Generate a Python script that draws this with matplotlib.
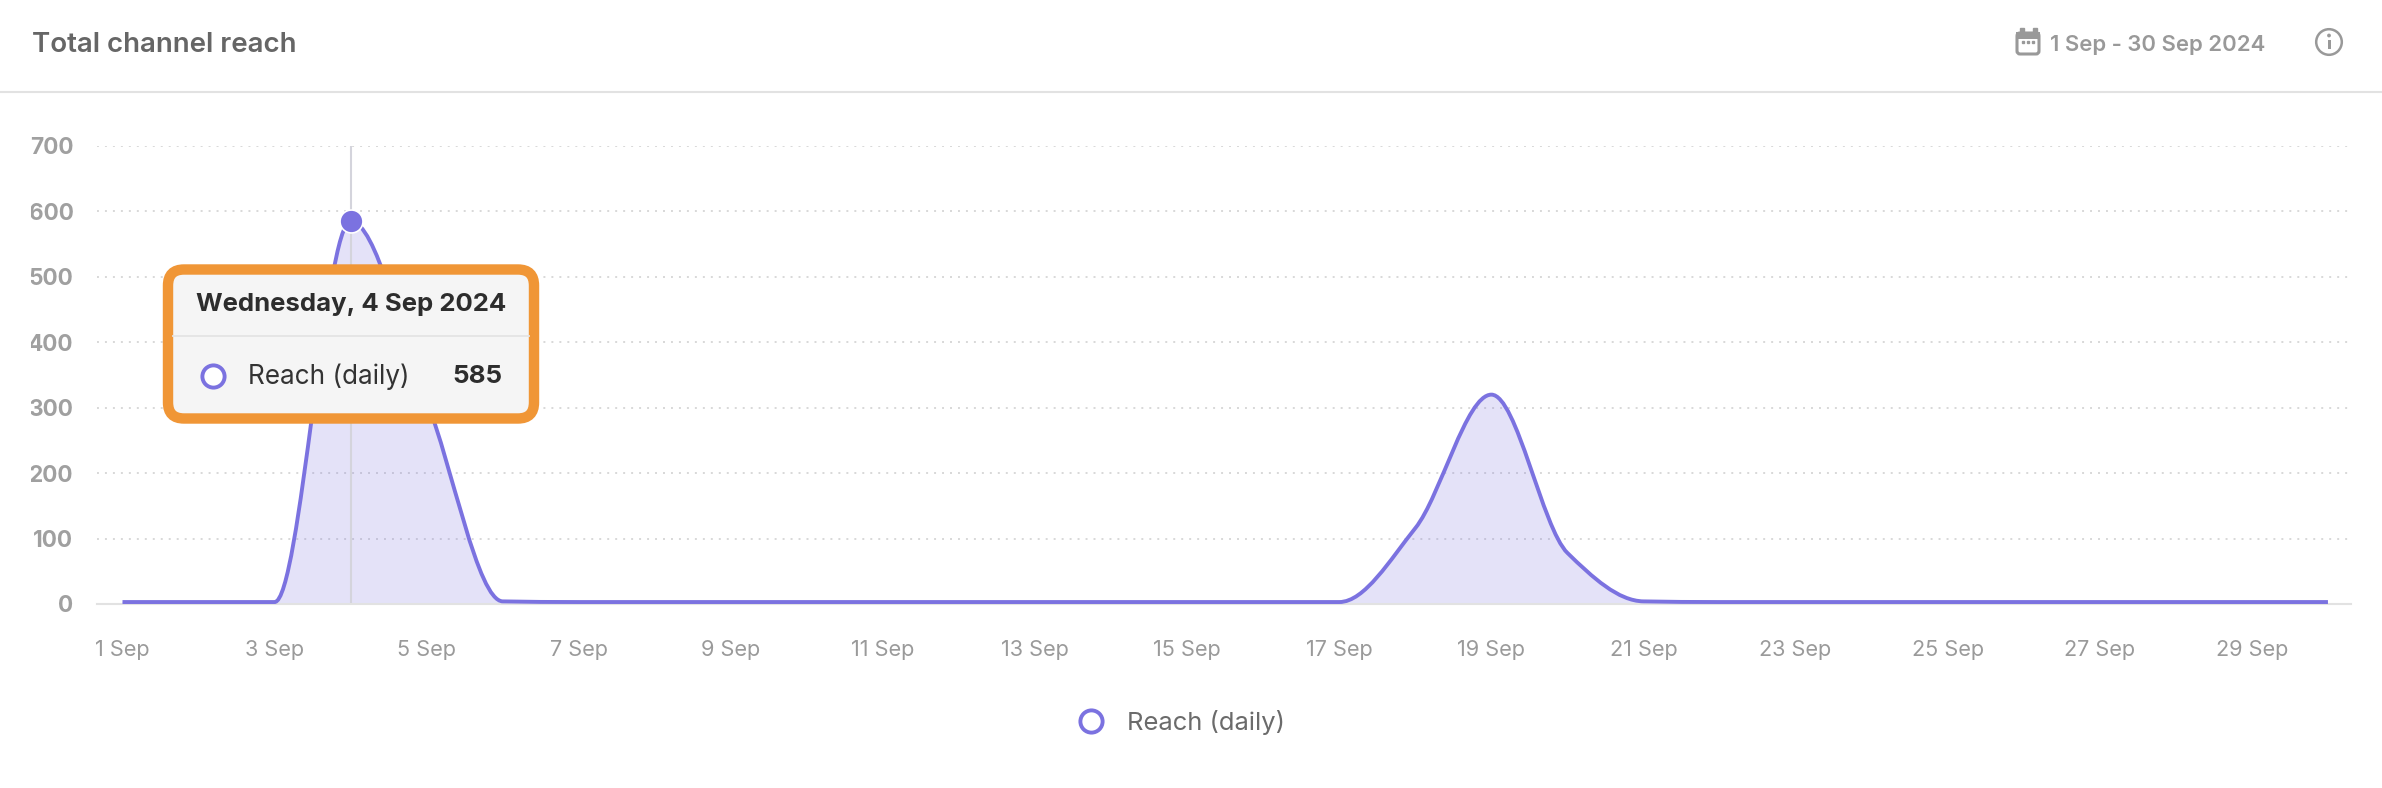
import numpy as np
import matplotlib
matplotlib.use('Agg')
import matplotlib.pyplot as plt
from matplotlib.path import Path
from matplotlib.patches import PathPatch, FancyBboxPatch, Circle, Rectangle
from matplotlib.transforms import Bbox

plt.rcParams['font.family'] = ['Inter', 'DejaVu Sans']

days = list(range(1, 31))
reach = [3, 3, 3, 585, 310, 4, 3, 3, 3, 3, 3, 3, 3, 3, 3, 3, 3, 116, 320, 78, 4, 3, 3, 3, 3, 3, 3, 3, 3, 3]
y_ticks = [0, 100, 200, 300, 400, 500, 600, 700]
x_ticks = list(range(1, 30, 2))
x_labels = ['%d Sep' % d for d in x_ticks]

W, H = 2382, 788
PURPLE = '#7b72e0'
GREY = '#9a9a9a'


def monotone_path(x, y):
    # curva monotona (como la del grafico original) en segmentos bezier
    x = np.array(x, float)
    y = np.array(y, float)
    d = np.diff(y) / np.diff(x)
    m = np.zeros(len(y))
    for i in range(1, len(y) - 1):
        if d[i - 1] * d[i] > 0:
            m[i] = 2 * d[i - 1] * d[i] / (d[i - 1] + d[i])
    verts = [(x[0], y[0])]
    codes = [Path.MOVETO]
    for i in range(len(x) - 1):
        h = (x[i + 1] - x[i]) / 3
        verts += [(x[i] + h, y[i] + m[i] * h), (x[i + 1] - h, y[i + 1] - m[i + 1] * h), (x[i + 1], y[i + 1])]
        codes += [Path.CURVE4] * 3
    return verts, codes


fig = plt.figure(figsize=(W / 100, H / 100), dpi=100, facecolor='white')

left, right, top, bottom = 97, 2351, 146, 604
ax = fig.add_axes([left / W, 1 - bottom / H, (right - left) / W, (bottom - top) / H])
step = 76.05
first = 122.5
ax.set_xlim(1 - (first - left) / step, 1 + (right - first) / step)
ax.set_ylim(0, 700)
for s in ['top', 'left', 'right']:
    ax.spines[s].set_visible(False)
ax.spines['bottom'].set_color('#e2e2e2')
ax.spines['bottom'].set_linewidth(1.5)

ax.grid(axis='y', color='#d8d8d8', linewidth=1.4, linestyle=(0, (1, 3.1)))
ax.set_axisbelow(True)
ax.set_yticks(y_ticks)
ax.get_ygridlines()[0].set_visible(False)
ax.set_xticks(x_ticks)
ax.set_xticklabels(x_labels, fontsize=15.6, color=GREY)
ax.tick_params(axis='both', length=0)
ax.tick_params(axis='x', pad=26)
ax.tick_params(axis='y', pad=17)
# las etiquetas del eje y salen recortadas por la izquierda
clip = Bbox([[31, 0], [W, H]])
for t in ax.get_yticklabels():
    t.set_fontsize(16.3)
    t.set_color('#a0a0a0')
    t.set_fontweight('bold')
    t.set_clip_on(True)
    t.set_clip_box(clip)

verts, codes = monotone_path(days, reach)
ax.add_patch(PathPatch(Path(verts + [(days[-1], 0), (days[0], 0), (days[0], 0)],
                            codes + [Path.LINETO, Path.LINETO, Path.CLOSEPOLY]),
                       facecolor=PURPLE, alpha=0.2, edgecolor='none', zorder=2))
ax.add_patch(PathPatch(Path(verts, codes), facecolor='none', edgecolor=PURPLE, linewidth=2.8, zorder=3))

ax.axvline(days[3], color='#d4d4dc', linewidth=1.5, zorder=2.5)
ax.plot([days[3]], [reach[3]], 'o', color=PURPLE, markersize=16.5, markeredgecolor='white',
        markeredgewidth=1.2, zorder=4)

# parte de interfaz: encabezado, tooltip y leyenda en pixeles
ui = fig.add_axes([0, 0, 1, 1], zorder=5)
ui.set_xlim(0, W)
ui.set_ylim(H, 0)
ui.axis('off')
ui.patch.set_alpha(0)

ui.text(32, 45, 'Total channel reach', fontsize=19.9, fontweight='semibold', color='#666666', va='center')
ui.plot([0, W], [92, 92], color='#e2e2e2', linewidth=1.5)

# icono calendario
ui.add_patch(FancyBboxPatch((2017, 33), 22, 21, boxstyle='round,pad=0,rounding_size=3',
                            facecolor='white', edgecolor='#999999', linewidth=2.2))
ui.add_patch(Rectangle((2016, 32), 24, 7, facecolor='#999999', edgecolor='none'))
ui.plot([2021.5, 2034.5], [30, 30], ls='none', marker='s', ms=2.2, color='#999999')
ui.plot([2023, 2028, 2033], [42, 42, 42], ls='none', marker='s', ms=1.6, color='#999999')
ui.text(2050, 44.5, '1 Sep - 30 Sep 2024', fontsize=15.9, fontweight='semibold', color='#999999', va='center')

# icono info
ui.add_patch(Circle((2329, 42), 12.8, facecolor='none', edgecolor='#999999', linewidth=1.8))
ui.add_patch(Rectangle((2327.6, 40), 2.9, 9, facecolor='#999999', edgecolor='none'))
ui.add_patch(Circle((2329, 35.5), 1.9, facecolor='#999999', edgecolor='none'))

# tooltip
ui.add_patch(FancyBboxPatch((168, 269.5), 366, 149, boxstyle='round,pad=0,rounding_size=16',
                            facecolor='#f5f5f5', edgecolor='#f09636', linewidth=7.5))
ui.plot([173, 529], [335.5, 335.5], color='#e4e4e4', linewidth=1.3)
ui.text(351, 304.5, 'Wednesday, 4 Sep 2024', fontsize=18.5, fontweight='bold', color='#2d2d2d',
        ha='center', va='center')
ui.plot([213], [376], 'o', ms=16, markerfacecolor='white', markeredgecolor=PURPLE, markeredgewidth=2.8)
ui.text(248, 376.5, 'Reach (daily)', fontsize=18.8, color='#333333', va='center')
ui.text(502, 376.5, '585', fontsize=18.7, fontweight='bold', color='#2d2d2d', ha='right', va='center')

# leyenda
ui.plot([1091], [720.5], 'o', ms=16, markerfacecolor='white', markeredgecolor=PURPLE, markeredgewidth=2.8)
ui.text(1127, 722.5, 'Reach (daily)', fontsize=18.4, color='#6b6b6b', va='center')

fig.savefig('out.png', dpi=100)
